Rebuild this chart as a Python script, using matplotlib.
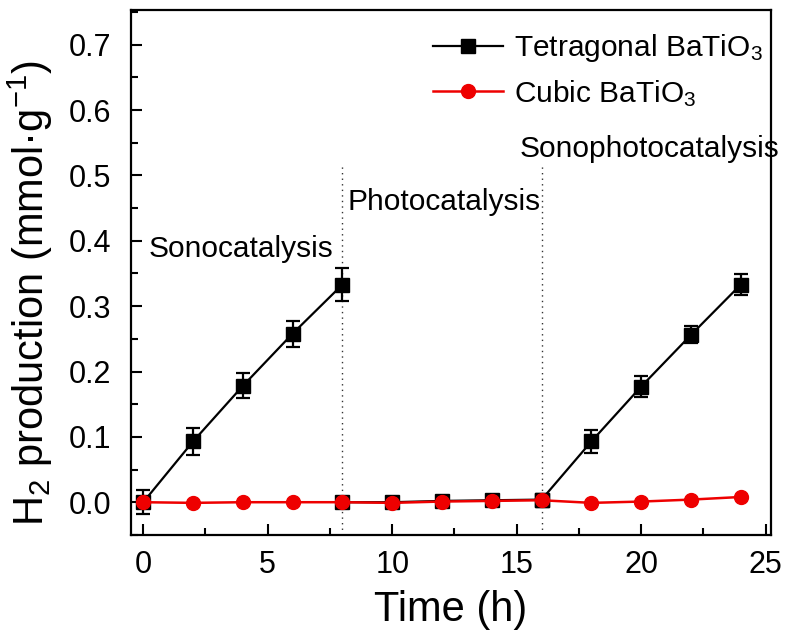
import matplotlib
matplotlib.use("Agg")
import matplotlib.pyplot as plt
from matplotlib.ticker import MultipleLocator, FormatStrFormatter

plt.rcParams['font.family'] = ['Liberation Sans', 'DejaVu Sans']
plt.rcParams['mathtext.default'] = 'regular'

# Tetragonal BaTiO3, three stages
time_sono = [0, 2, 4, 6, 8]
tet_sono = [0.0, 0.093, 0.178, 0.258, 0.333]
tet_sono_err = [0.018, 0.020, 0.019, 0.020, 0.025]

time_photo = [8, 10, 12, 14, 16]
tet_photo = [0.0, 0.0, 0.002, 0.003, 0.004]

time_sonophoto = [16, 18, 20, 22, 24]
tet_sonophoto = [0.004, 0.093, 0.177, 0.256, 0.333]
tet_sonophoto_err = [0.0, 0.018, 0.016, 0.013, 0.016]

# Cubic BaTiO3
time_cubic = [0, 2, 4, 6, 8, 10, 12, 14, 16, 18, 20, 22, 24]
cubic = [0.0, -0.001, 0.0, 0.0, 0.0, -0.001, 0.001, 0.002, 0.003, -0.001, 0.001, 0.004, 0.008]

stage_bounds = [8, 16]
stage_labels = ["Sonocatalysis", "Photocatalysis", "Sonophotocatalysis"]

fig = plt.figure(figsize=(7.88, 6.33), dpi=100)
ax = fig.add_axes([0.166, 0.155, 0.812, 0.829])

for xb in stage_bounds:
    ax.plot([xb, xb], [-0.05, 0.515], color='#333333', lw=1.0, ls=(0, (1, 3)), zorder=1)

lkw = dict(color='black', lw=1.6, marker='s', ms=9.5, zorder=3)
ekw = dict(fmt='none', ecolor='black', capsize=5, capthick=1.6, elinewidth=1.6, zorder=3)

ax.plot(time_photo, tet_photo, **lkw)
h_tet, = ax.plot(time_sono, tet_sono, label='Tetragonal BaTiO$_3$', **lkw)
ax.errorbar(time_sono, tet_sono, yerr=tet_sono_err, **ekw)
ax.plot(time_sonophoto, tet_sonophoto, **lkw)
ax.errorbar(time_sonophoto, tet_sonophoto, yerr=tet_sonophoto_err, **ekw)

h_cub, = ax.plot(time_cubic, cubic, color='#ee0000', lw=1.8, marker='o', ms=10,
                 label='Cubic BaTiO$_3$', zorder=4)

ax.text(0.2, 0.387, stage_labels[0], fontsize=21.5, va='center', ha='left')
ax.text(8.2, 0.459, stage_labels[1], fontsize=21.5, va='center', ha='left')
ax.text(15.1, 0.54, stage_labels[2], fontsize=21.5, va='center', ha='left')

ax.set_xlim(-0.5, 25.2)
ax.set_ylim(-0.05, 0.753)
ax.xaxis.set_major_locator(MultipleLocator(5))
ax.xaxis.set_minor_locator(MultipleLocator(2.5))
ax.yaxis.set_major_locator(MultipleLocator(0.1))
ax.yaxis.set_minor_locator(MultipleLocator(0.05))
ax.yaxis.set_major_formatter(FormatStrFormatter('%.1f'))
ax.tick_params(which='both', direction='in', width=1.5, labelsize=22, top=False, right=False)
ax.tick_params(which='major', length=8)
ax.tick_params(axis='y', which='major', pad=14)
ax.tick_params(axis='x', which='major', pad=11)
ax.tick_params(which='minor', length=5)
for s in ax.spines.values():
    s.set_linewidth(1.6)

ax.set_xlabel('Time (h)', fontsize=30, labelpad=7)
ax.set_ylabel('H$_2$ production (mmol·g$^{-1}$)', fontsize=30)
ax.yaxis.set_label_coords(-0.118, 0.46)

ax.legend(handles=[h_tet, h_cub], loc='upper right', bbox_to_anchor=(1.008, 0.983),
          fontsize=21.5, frameon=False, handlelength=2.35, borderaxespad=0.15,
          labelspacing=0.45, handletextpad=0.35, borderpad=0.3)

fig.savefig('out.png', dpi=100)
